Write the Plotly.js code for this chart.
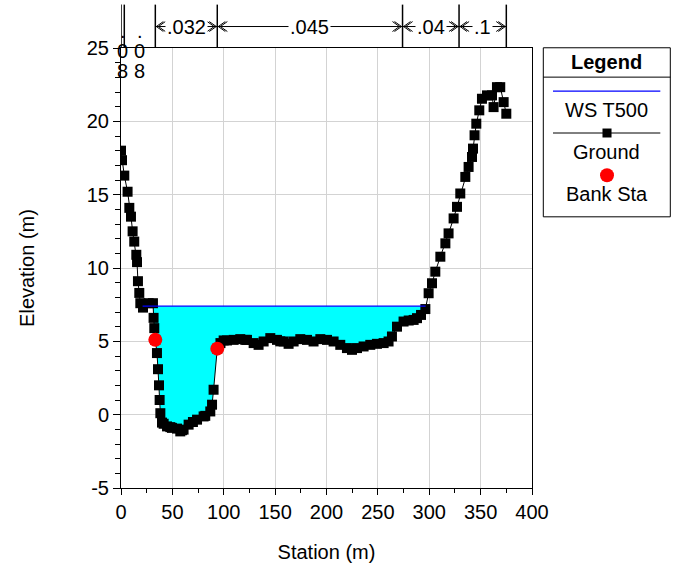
<!DOCTYPE html>
<html><head><meta charset="utf-8">
<script src="https://cdn.plot.ly/plotly-3.0.1.min.js"></script>
<style>html,body{margin:0;padding:0;background:#fff}#chart{width:678px;height:567px}</style>
</head><body><div id="chart"></div>
<script>
// ---- data ----
const groundStation = [0, 1.0, 3.2, 6.4, 8.1, 9.7, 11.3, 12.9, 14.9, 15.6, 16.5, 17.8, 18.8, 21.4, 26.9, 31.1, 31.7, 32.4,
  33.4, 35.0, 36.0, 37.0, 37.6, 38.3, 39.9, 41.5, 44.8, 48.0, 49.6, 54.5, 57.7, 59.4, 60.9, 65.8, 70.0, 74.0, 80.4, 82.0, 86.9, 88.6, 90.1,
  93.7, 96.8, 99.9, 103.2, 109.6, 116.1, 121.0, 122.6, 129.1, 133.9, 138.8, 145.3, 151.8, 155.0, 158.3, 163.1, 168.0, 174.5,
  181.0, 187.4, 194.0, 200.5, 206.9, 213.4, 219.9, 224.8, 229.7, 236.1, 242.6, 249.1, 255.6, 260.4, 263.7, 268.6, 275.0,
  280.0, 284.8, 288.1, 292.0, 296.2, 299.4, 302.7, 305.9, 310.8, 315.7, 318.8, 323.7, 327.0, 330.2, 335.1, 338.3, 341.6,
  342.6, 344.1, 345.8, 348.7, 351.3, 356.2, 361.1, 362.6, 365.9, 369.1, 372.4, 375.0];
const groundElev = [18.0, 17.35, 16.3, 15.2, 14.1, 13.5, 12.5, 11.8, 10.9, 10.4, 9.1, 8.3, 7.6, 7.3, 7.6, 7.6, 6.6, 5.9,
  5.1, 4.2, 3.1, 2.0, 1.0, 0.1, -0.54, -0.62, -0.8, -0.85, -0.9, -0.95, -1.14, -1.06, -1.02, -0.68, -0.5, -0.34, -0.12, -0.08, 0.22, 0.68, 1.7,
  4.5, 4.88, 5.06, 5.06, 5.1, 5.15, 5.1, 5.1, 4.88, 4.76, 4.99, 5.22, 5.1, 5.0, 4.99, 4.83, 4.99, 5.15,
  5.1, 4.99, 5.15, 5.1, 4.99, 4.76, 4.54, 4.42, 4.54, 4.65, 4.76, 4.83, 4.88, 4.99, 5.33, 6.0, 6.35,
  6.42, 6.46, 6.58, 6.8, 7.2, 8.28, 8.96, 9.75, 10.77, 11.68, 12.36, 13.38, 14.17, 15.08, 16.21, 16.89, 17.57,
  18.14, 19.05, 19.84, 20.75, 21.54, 21.77, 21.77, 20.97, 22.33, 22.33, 21.31, 20.52];
const wsElev = 7.4;
const wsStart = 21.0;
const wsEnd = 296.5;
const bankStation = [33.4, 93.7];
const bankElev = [5.1, 4.5];
const nBreaks = [0, 3.2, 33.4, 93.7, 274, 329, 375];
const nValues = ['.08', '.08', '.032', '.045', '.04', '.1'];
const yTickVals = [-5, 0, 5, 10, 15, 20, 25];
const yTickText = ['-5', '0', '5', '10', '15', '20', '25'];

// ---- build water fill from ground & WS ----
function groundAt(s){
  for(let i=0;i<groundStation.length-1;i++){
    const a=groundStation[i], b=groundStation[i+1];
    if(s>=a && s<=b){ const t=(s-a)/(b-a||1); return groundElev[i]+t*(groundElev[i+1]-groundElev[i]); }
  }
  return groundElev[groundElev.length-1];
}
const fx=[wsStart], fg=[Math.min(groundAt(wsStart),wsElev)];
groundStation.forEach((s,i)=>{ if(s>wsStart && s<wsEnd){ fx.push(s); fg.push(Math.min(groundElev[i],wsElev)); } });
fx.push(wsEnd); fg.push(Math.min(groundAt(wsEnd),wsElev));
const fw=fx.map(()=>wsElev);

const FONT = 'Liberation Sans, Arial, sans-serif';
const FS = 20;
const traces = [
  {x:fx, y:fw, mode:'lines', line:{width:0, color:'rgba(0,0,0,0)'}, hoverinfo:'skip', showlegend:false},
  {x:fx, y:fg, mode:'lines', line:{width:0, color:'rgba(0,0,0,0)'}, fill:'tonexty', fillcolor:'#00ffff', hoverinfo:'skip', showlegend:false},
  {name:'Ground', x:groundStation, y:groundElev, mode:'lines+markers', line:{color:'black', width:1},
   marker:{symbol:'square', size:10, color:'black'}, showlegend:false},
  {name:'WS T500', x:[wsStart, wsEnd], y:[wsElev, wsElev], mode:'lines', line:{color:'#0000ff', width:1.3}, showlegend:false},
  {name:'Bank Sta', x:bankStation, y:bankElev, mode:'markers', marker:{symbol:'circle', size:14, color:'#ff0000'}, showlegend:false}
];

// ---- n-value strip above plot ----
const shapes=[], annotations=[];
const yLine = 1.0488, yTop = 1.0986, ah = 0.0113, aw = 6.8;
nBreaks.forEach(s=>{
  shapes.push({type:'line', xref:'x', yref:'paper', x0:s, x1:s, y0:1.0, y1:yTop, line:{color:'black', width:1.5}});
});
nValues.forEach((v,i)=>{
  const a=nBreaks[i], b=nBreaks[i+1], c=(a+b)/2;
  if(b-a<40){
    const chars=v.split('');
    chars.forEach((ch,k)=>{
      annotations.push({xref:'x', yref:'paper', x:c, y:1.0, yshift:17.5-20*k, text:ch, showarrow:false,
        xanchor:'center', yanchor:'middle', font:{family:FONT, size:FS, color:'black'}});
    });
  } else {
    shapes.push({type:'line', xref:'x', yref:'paper', x0:a, x1:b, y0:yLine, y1:yLine, line:{color:'black', width:1}});
    [[a,1],[b,-1]].forEach(([p,d])=>{
      [0,2].forEach(o=>{
        const tip=p+d*(1+o);
        shapes.push({type:'path', xref:'x', yref:'paper',
          path:`M ${tip+d*aw},${yLine+ah} L ${tip},${yLine} L ${tip+d*aw},${yLine-ah}`,
          line:{color:'black', width:1}});
      });
    });
    annotations.push({xref:'x', yref:'paper', x:c, y:yLine-0.002, text:v, showarrow:false, xanchor:'center', yanchor:'middle',
      bgcolor:'white', borderpad:1, font:{family:FONT, size:FS, color:'black'}});
  }
});

// ---- custom legend (paper coords) ----
shapes.push({type:'rect', xref:'paper', yref:'paper', x0:1.0275, x1:1.3365, y0:0.6163, y1:1.0005, line:{color:'black', width:1}, fillcolor:'white'});
shapes.push({type:'line', xref:'paper', yref:'paper', x0:1.0275, x1:1.3365, y0:0.9338, y1:0.9338, line:{color:'black', width:1}});
shapes.push({type:'line', xref:'paper', yref:'paper', x0:1.0511, x1:1.3122, y0:0.902, y1:0.902, line:{color:'#0000ff', width:1.3}});
shapes.push({type:'line', xref:'paper', yref:'paper', x0:1.0511, x1:1.3122, y0:0.8068, y1:0.8068, line:{color:'black', width:1}});
shapes.push({type:'rect', xref:'paper', yref:'paper', x0:1.1825-0.011, x1:1.1825+0.011, y0:0.8068-0.0102, y1:0.8068+0.0102, line:{width:0}, fillcolor:'black'});
shapes.push({type:'circle', xref:'paper', yref:'paper', x0:1.1825-0.017, x1:1.1825+0.017, y0:0.7109-0.0159, y1:0.7109+0.0159, line:{width:0}, fillcolor:'#ff0000'});
const legItems=[['<b>Legend</b>',0.9678],['WS T500',0.86],['Ground',0.7637],['Bank Sta',0.6678]];
legItems.forEach(([t,y])=>annotations.push({xref:'paper', yref:'paper', x:1.182, y:y, text:t, showarrow:false,
  xanchor:'center', yanchor:'middle', font:{family:FONT, size:FS, color:'black'}}));

const axisCommon = {
  showline:true, linecolor:'black', linewidth:1, mirror:true, zeroline:false,
  showgrid:true, gridcolor:'#d3d3d3', gridwidth:1,
  ticks:'outside', tickcolor:'black', tickwidth:1,
  tickfont:{family:FONT, size:FS, color:'black'}
};
const layout = {
  width:678, height:567, paper_bgcolor:'white', plot_bgcolor:'white',
  margin:{l:120.7, r:146.3, t:47.5, b:78.5},
  font:{family:FONT, color:'black'},
  showlegend:false,
  xaxis:Object.assign({}, axisCommon, {range:[0,400], tick0:0, dtick:50, ticklen:6,
    minor:{dtick:25, ticks:'outside', ticklen:4, tickcolor:'black', showgrid:false},
    title:{text:'Station (m)', font:{family:FONT, size:FS, color:'black'}, standoff:22}}),
  yaxis:Object.assign({}, axisCommon, {range:[-5,25], tickmode:'array', tickvals:yTickVals, ticktext:yTickText, ticklen:7,
    minor:{tickmode:'linear', tick0:0, dtick:1, ticks:'outside', ticklen:5, tickcolor:'black', showgrid:false},
    title:{text:'Elevation (m)', font:{family:FONT, size:FS, color:'black'}, standoff:46}}),
  shapes:shapes, annotations:annotations
};
Plotly.newPlot('chart', traces, layout, {displayModeBar:false, staticPlot:true});
</script></body></html>
